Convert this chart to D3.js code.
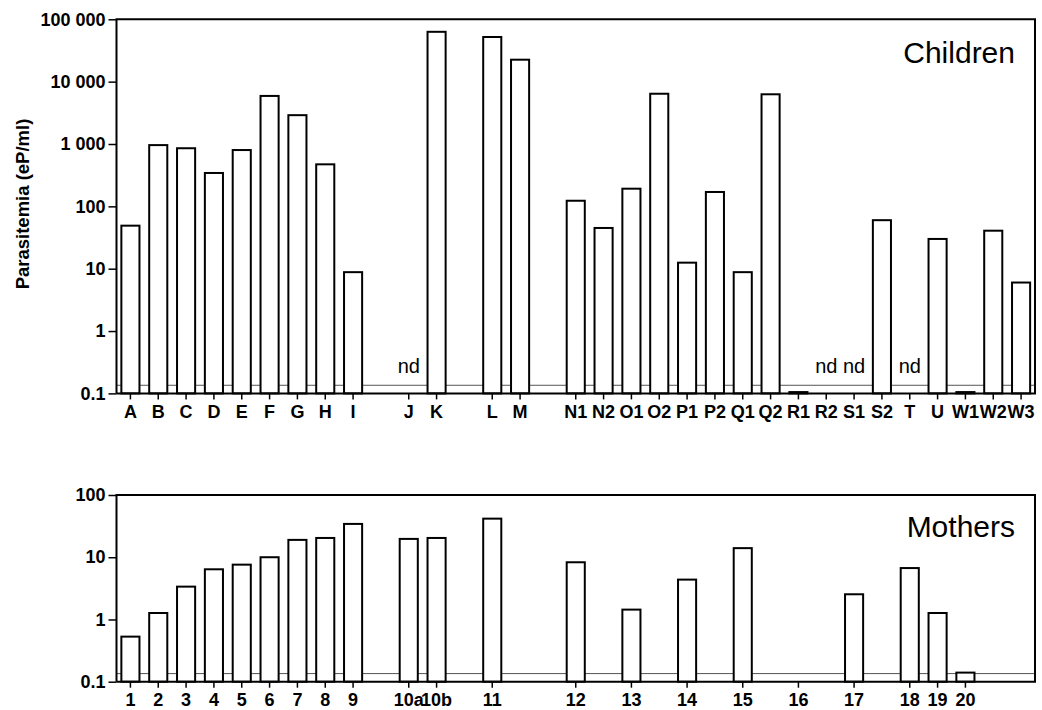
<!DOCTYPE html>
<html>
<head>
<meta charset="utf-8">
<script src="https://cdn.jsdelivr.net/npm/d3@7/dist/d3.min.js"></script>
<style>
  body { margin: 0; background: #fff; }
  svg { display: block; font-family: "Liberation Sans", Arial, sans-serif; }
</style>
</head>
<body>
<div id="chart"></div>
<script>
// Children: one slot per position, "" = empty gap slot
const childLabels = ["A", "B", "C", "D", "E", "F", "G", "H", "I", "", "J", "K", "", "L", "M", "",
    "N1", "N2", "O1", "O2", "P1", "P2", "Q1", "Q2", "R1", "R2", "S1", "S2", "T", "U", "W1", "W2", "W3"];
const childValues = [49, 960, 855, 343, 800, 5900, 2900, 472, 8.8, null, null, 63000, null, 52000, 22500, null,
    123, 45, 192, 6400, 12.5, 170, 8.8, 6270, 0.105, null, null, 60, null, 30, 0.105, 40.7, 6.0];
const childND = ["J", "R2", "S1", "T"];
const childTicks = [0.1, 1, 10, 100, 1000, 10000, 100000];
const childTickLabels = ["0.1", "1", "10", "100", "1 000", "10 000", "100 000"];

// Mothers, aligned on the same slots
const motherLabels = ["1", "2", "3", "4", "5", "6", "7", "8", "9", "", "10a", "10b", "", "11", "", "",
    "12", "", "13", "", "14", "", "15", "", "16", "", "17", "", "18", "19", "20", "", ""];
const motherValues = [0.53, 1.27, 3.37, 6.4, 7.6, 10, 19, 20.4, 34.3, null, 19.7, 20.4, null, 41.7, null, null,
    8.3, null, 1.44, null, 4.37, null, 14, null, null, null, 2.54, null, 6.7, 1.27, 0.14, null, null];
const motherTicks = [0.1, 1, 10, 100];
const motherTickLabels = ["0.1", "1", "10", "100"];

const detectionLimit = 0.135;

const W = 1042, H = 710;
const left = 116.5, right = 1035;

const svg = d3.select("#chart")
    .append("svg")
    .attr("width", W)
    .attr("height", H);

function drawPanel(opts) {
    const { labels, values, nd, ticks, tickLabels, title, top, bottom, titleY } = opts;
    const g = svg.append("g");

    const x = d3.scaleBand()
        .domain(d3.range(labels.length))
        .range([left, right])
        .padding(0);

    const y = d3.scaleLog()
        .domain([ticks[0], ticks[ticks.length - 1]])
        .range([bottom, top]);

    const barW = x.bandwidth() * 0.65;

    // detection limit line
    g.append("line")
        .attr("x1", left).attr("x2", right)
        .attr("y1", y(detectionLimit)).attr("y2", y(detectionLimit))
        .attr("stroke", "#555")
        .attr("stroke-width", 1);

    // bars
    const data = values.map((v, i) => ({ i, v })).filter(d => d.v != null);
    g.selectAll(".bar")
        .data(data)
        .enter()
        .append("rect")
        .attr("class", "bar")
        .attr("x", d => x(d.i) + (x.bandwidth() - barW) / 2)
        .attr("width", barW)
        .attr("y", d => y(d.v))
        .attr("height", d => y(ticks[0]) - y(d.v))
        .attr("fill", "#fff")
        .attr("stroke", "#000")
        .attr("stroke-width", 2);

    // "nd" labels
    g.selectAll(".nd")
        .data(labels.map((l, i) => ({ l, i })).filter(d => nd.includes(d.l)))
        .enter()
        .append("text")
        .attr("class", "nd")
        .attr("x", d => x(d.i) + x.bandwidth() / 2)
        .attr("y", bottom - 20)
        .attr("text-anchor", "middle")
        .attr("font-size", "20px")
        .text("nd");

    // x axis
    const xAxis = g.append("g")
        .attr("transform", `translate(0,${bottom})`)
        .call(d3.axisBottom(x)
            .tickValues(d3.range(labels.length).filter(i => labels[i] !== ""))
            .tickFormat(i => labels[i])
            .tickSize(6)
            .tickSizeOuter(0));
    xAxis.select(".domain").remove();
    xAxis.selectAll(".tick line").attr("stroke", "#000").attr("stroke-width", 1.5);
    xAxis.selectAll(".tick text")
        .attr("y", 12)
        .attr("font-size", "18px")
        .attr("font-weight", "bold")
        .attr("fill", "#000");

    // y axis
    const yAxis = g.append("g")
        .attr("transform", `translate(${left},0)`)
        .call(d3.axisLeft(y)
            .tickValues(ticks)
            .tickFormat((d, i) => tickLabels[i])
            .tickSize(8)
            .tickPadding(3));
    yAxis.select(".domain").remove();
    yAxis.selectAll(".tick line").attr("stroke", "#000").attr("stroke-width", 1.5);
    yAxis.selectAll(".tick text")
        .attr("font-size", "18px")
        .attr("font-weight", "bold")
        .attr("fill", "#000");

    // frame
    g.append("path")
        .attr("d", `M${left},${bottom}V${top}H${right}V${bottom}H${left}`)
        .attr("fill", "none")
        .attr("stroke", "#000")
        .attr("stroke-width", 2);

    g.append("text")
        .attr("x", 1015)
        .attr("y", titleY)
        .attr("text-anchor", "end")
        .attr("font-size", "30px")
        .text(title);
}

drawPanel({
    labels: childLabels, values: childValues, nd: childND,
    ticks: childTicks, tickLabels: childTickLabels,
    title: "Children", top: 19.3, bottom: 393.4, titleY: 62.5
});

drawPanel({
    labels: motherLabels, values: motherValues, nd: [],
    ticks: motherTicks, tickLabels: motherTickLabels,
    title: "Mothers", top: 495, bottom: 681.7, titleY: 537
});

svg.append("text")
    .attr("transform", "rotate(-90)")
    .attr("x", -204)
    .attr("y", 29)
    .attr("text-anchor", "middle")
    .attr("font-size", "18.5px")
    .attr("font-weight", "bold")
    .text("Parasitemia (eP/ml)");
</script>
</body>
</html>
